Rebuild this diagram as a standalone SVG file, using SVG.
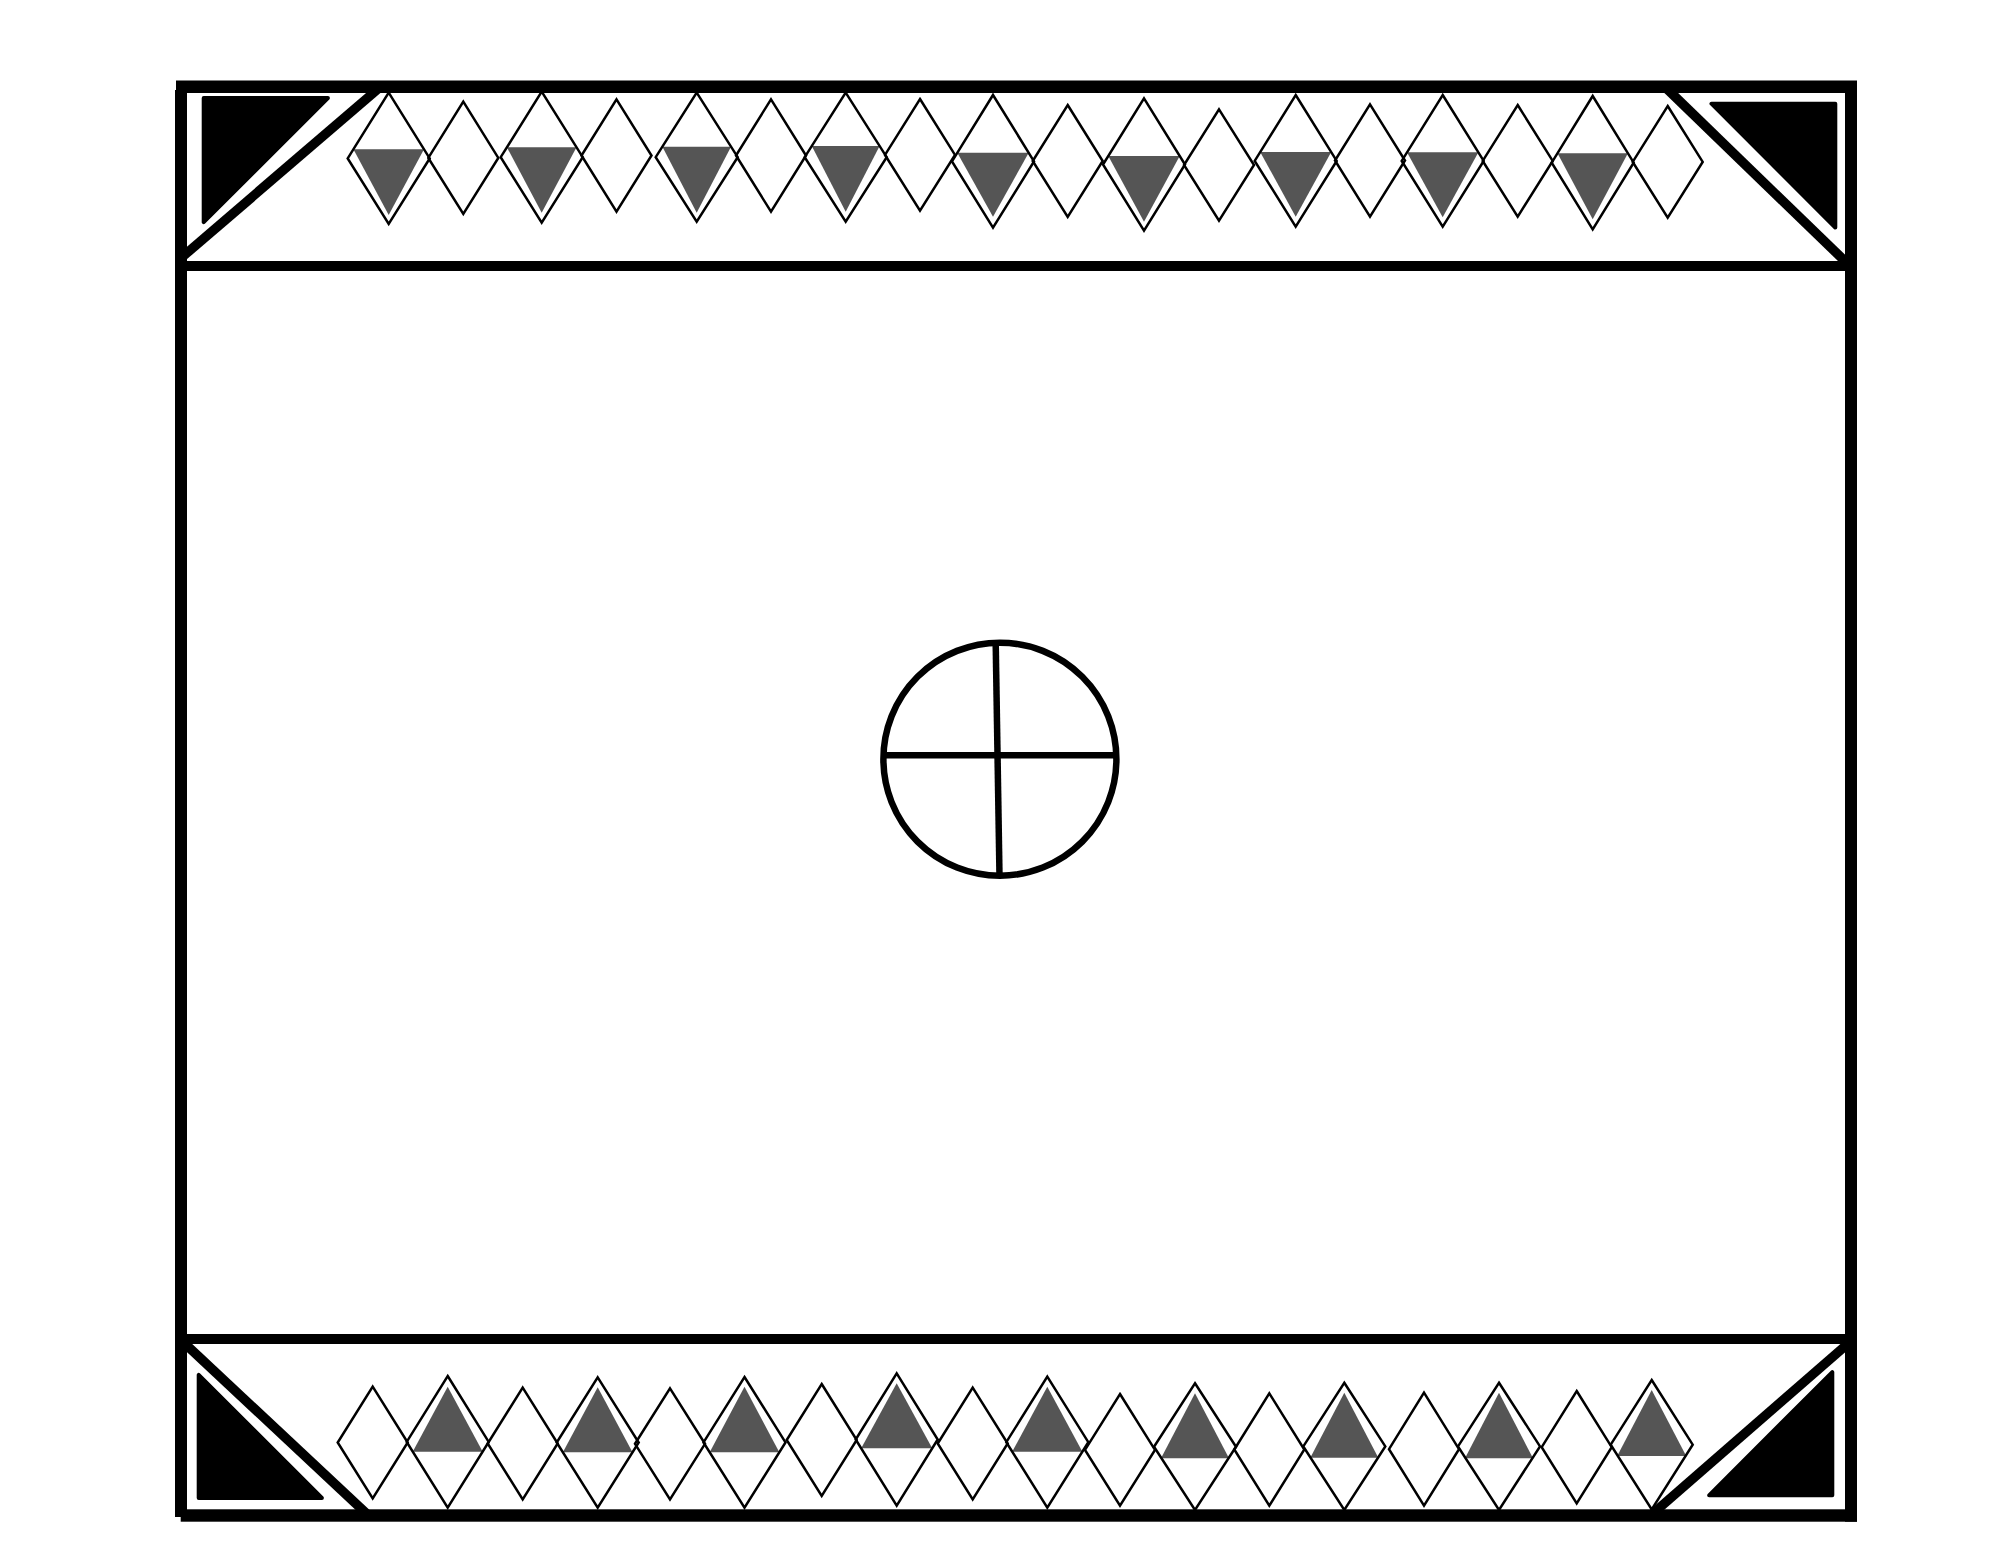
<svg xmlns="http://www.w3.org/2000/svg" width="1999" height="1545" viewBox="0 0 1999 1545">
<style>
.d{fill:none;stroke:#000;stroke-width:2.5;stroke-linejoin:miter}
.g{fill:#555555;stroke:none}
.f{fill:#000}
.c{fill:#000;stroke:#000;stroke-width:4;stroke-linejoin:round}
.diag{stroke:#000;stroke-width:9.5;fill:none}
.sym{fill:none;stroke:#000;stroke-width:6.5}
</style>
<rect width="1999" height="1545" fill="#fff"/>
<g id="diagonals">
<line class="diag" x1="382.6" y1="85" x2="181" y2="258"/>
<line class="diag" x1="1663" y1="85" x2="1851" y2="267"/>
<line class="diag" x1="181" y1="1340" x2="368" y2="1515"/>
<line class="diag" x1="1650" y1="1516" x2="1851" y2="1341"/>
</g>
<g id="frame">
<rect class="f" x="176" y="80.5" width="1681" height="12.5"/>
<rect class="f" x="175" y="90" width="12" height="1427"/>
<rect class="f" x="1845" y="87" width="12" height="1434.7"/>
<rect class="f" x="180.7" y="1509.3" width="1676.3" height="12.4"/>
<rect class="f" x="186" y="261" width="1659" height="10"/>
<rect class="f" x="186" y="1334" width="1659" height="10"/>
</g>
<g id="corners">
<polygon class="c" points="203.7,98 327.9,98 203.7,222.2"/>
<polygon class="c" points="1711.5,103.7 1835.3,103.7 1835.3,227.5"/>
<polygon class="c" points="198.7,1374.8 198.7,1498 321.9,1498"/>
<polygon class="c" points="1832.3,1372.1 1832.3,1495.3 1709.1,1495.3"/>
</g>
<g id="top-band">
<polygon class="g" points="353.4,149.3 424,149.3 388.7,215"/>
<polygon class="g" points="506.9,147.3 576.5,147.3 541.7,212.7"/>
<polygon class="g" points="662.4,146.7 731,146.7 696.7,212.7"/>
<polygon class="g" points="811.8,146 879.6,146 845.7,211.7"/>
<polygon class="g" points="957.3,152.7 1028.7,152.7 993,216.7"/>
<polygon class="g" points="1108.3,156 1179.7,156 1144,221.7"/>
<polygon class="g" points="1260.2,152 1331.2,152 1295.7,216.7"/>
<polygon class="g" points="1407,152.3 1478.4,152.3 1442.7,217.3"/>
<polygon class="g" points="1557.5,153.3 1627.9,153.3 1592.7,219.3"/>
<polygon class="d" points="388.7,92.7 429.7,158.4 388.7,224 347.7,158.4"/>
<polygon class="d" points="541.7,91.7 582.7,157.2 541.7,222.7 500.7,157.2"/>
<polygon class="d" points="696.7,92.7 737.7,157.2 696.7,221.7 655.7,157.2"/>
<polygon class="d" points="845.7,92.7 886.7,157.2 845.7,221.7 804.7,157.2"/>
<polygon class="d" points="993,95 1034,161.4 993,227.7 952,161.4"/>
<polygon class="d" points="1144,98.3 1185,164.5 1144,230.7 1103,164.5"/>
<polygon class="d" points="1295.7,95 1336.7,160.9 1295.7,226.7 1254.7,160.9"/>
<polygon class="d" points="1442.7,95 1483.7,160.9 1442.7,226.7 1401.7,160.9"/>
<polygon class="d" points="1592.7,96 1633.7,162.7 1592.7,229.3 1551.7,162.7"/>
<polygon class="d" points="463.3,101.7 498.3,157.9 463.3,214 428.3,157.9"/>
<polygon class="d" points="616.5,99.3 651.5,155.5 616.5,211.7 581.5,155.5"/>
<polygon class="d" points="771,99.3 806,155.5 771,211.7 736,155.5"/>
<polygon class="d" points="920,99 955,154.9 920,210.7 885,154.9"/>
<polygon class="d" points="1067.7,105 1102.7,161 1067.7,217 1032.7,161"/>
<polygon class="d" points="1219,109.3 1254,165 1219,220.7 1184,165"/>
<polygon class="d" points="1370,104.3 1405,160.5 1370,216.7 1335,160.5"/>
<polygon class="d" points="1517.7,105 1552.7,160.9 1517.7,216.7 1482.7,160.9"/>
<polygon class="d" points="1667.7,106 1702.7,161.9 1667.7,217.7 1632.7,161.9"/>
</g>
<g id="bottom-band">
<polygon class="g" points="447.7,1386.7 482.7,1451.7 412.7,1451.7"/>
<polygon class="g" points="597.7,1387.3 632.5,1452.3 562.9,1452.3"/>
<polygon class="g" points="744.5,1386.8 779.3,1452.3 709.7,1452.3"/>
<polygon class="g" points="896.7,1383.3 932.2,1448.3 861.2,1448.3"/>
<polygon class="g" points="1047.3,1386.7 1082.4,1451.7 1012.2,1451.7"/>
<polygon class="g" points="1195,1393.3 1229,1458.3 1161,1458.3"/>
<polygon class="g" points="1344.3,1392.7 1378.3,1457.7 1310.3,1457.7"/>
<polygon class="g" points="1499,1392.7 1533,1458.3 1465,1458.3"/>
<polygon class="g" points="1651.7,1390 1686.2,1456 1617.2,1456"/>
<polygon class="d" points="447.7,1376 488.7,1441.9 447.7,1507.7 406.7,1441.9"/>
<polygon class="d" points="597.7,1377.3 638.7,1442.5 597.7,1507.7 556.7,1442.5"/>
<polygon class="d" points="744.5,1377 785.5,1442.4 744.5,1507.7 703.5,1442.4"/>
<polygon class="d" points="896.7,1373.3 937.7,1439.5 896.7,1505.7 855.7,1439.5"/>
<polygon class="d" points="1047.3,1376.7 1088.3,1442.2 1047.3,1507.7 1006.3,1442.2"/>
<polygon class="d" points="1195,1383.3 1236,1446.7 1195,1510 1154,1446.7"/>
<polygon class="d" points="1344.3,1382.7 1385.3,1446.4 1344.3,1510 1303.3,1446.4"/>
<polygon class="d" points="1499,1382.7 1540,1446.4 1499,1510 1458,1446.4"/>
<polygon class="d" points="1651.7,1380 1692.7,1444.7 1651.7,1509.3 1610.7,1444.7"/>
<polygon class="d" points="372.7,1386.7 407.7,1442.5 372.7,1498.3 337.7,1442.5"/>
<polygon class="d" points="522.7,1387.7 557.7,1443.5 522.7,1499.3 487.7,1443.5"/>
<polygon class="d" points="670,1388.3 705,1443.8 670,1499.3 635,1443.8"/>
<polygon class="d" points="821.7,1384 856.7,1440 821.7,1496 786.7,1440"/>
<polygon class="d" points="972.7,1387.7 1007.7,1443.5 972.7,1499.3 937.7,1443.5"/>
<polygon class="d" points="1120,1394 1155,1449.9 1120,1505.7 1085,1449.9"/>
<polygon class="d" points="1269.3,1393.3 1304.3,1449.5 1269.3,1505.7 1234.3,1449.5"/>
<polygon class="d" points="1424,1392.7 1459,1449.2 1424,1505.7 1389,1449.2"/>
<polygon class="d" points="1576.7,1391 1611.7,1447.2 1576.7,1503.3 1541.7,1447.2"/>
</g>
<g id="center-symbol">
<circle class="sym" cx="999.9" cy="759.2" r="116.5"/>
<line class="sym" x1="884" y1="755.3" x2="1116" y2="755.3" stroke-width="6"/>
<line class="sym" x1="995.7" y1="643" x2="999.5" y2="876" stroke-width="6"/>
</g>
</svg>
